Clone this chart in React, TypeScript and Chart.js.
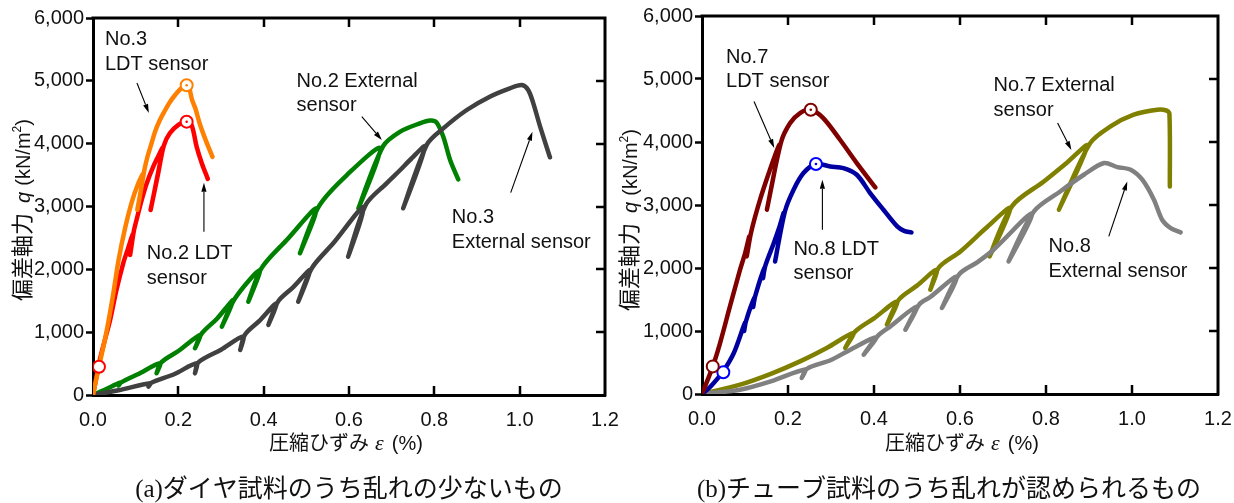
import React, { useEffect, useRef } from "react";
import { Chart, registerables } from "chart.js";

Chart.register(...registerables);

type Pt = [number, number];

// ---------- ticks ----------
const strainTicks = [0, 0.2, 0.4, 0.6, 0.8, 1.0, 1.2];
const stressTicks = [0, 1000, 2000, 3000, 4000, 5000, 6000];

// ---------- (a) left panel data: [strain %, q kN/m2] ----------
const no3Ldt: Pt[] = [
  [0, 0], [0.014, 450], [0.030, 950], [0.046, 1550], [0.060, 2150], [0.075, 2650],
  [0.090, 3050], [0.105, 3350], [0.118, 3520], [0.104, 2950], [0.112, 3250], [0.121, 3600],
  [0.128, 3800], [0.137, 4000], [0.146, 4200], [0.157, 4380], [0.168, 4520], [0.180, 4660],
  [0.192, 4770], [0.205, 4870], [0.2195, 4930], [0.226, 4870], [0.232, 4700], [0.240, 4560],
  [0.251, 4300], [0.265, 4040], [0.280, 3790],
];
const no2Ldt: Pt[] = [
  [0, 0], [0.016, 560], [0.028, 880], [0.040, 1190], [0.055, 1670], [0.071, 2100],
  [0.082, 2330], [0.093, 2550], [0.087, 2230], [0.096, 2620], [0.102, 2785], [0.114, 3100],
  [0.126, 3370], [0.141, 3630], [0.153, 3800], [0.163, 3930], [0.150, 3450], [0.135, 2944],
  [0.152, 3500], [0.166, 3970], [0.180, 4165], [0.200, 4300], [0.2195, 4350], [0.231, 4300],
  [0.243, 3950], [0.255, 3690], [0.269, 3440],
];
const no2External: Pt[] = [
  [0, 0], [0.030, 90], [0.063, 196], [0.060, 150], [0.066, 200], [0.105, 330],
  [0.157, 504], [0.149, 345], [0.160, 520], [0.200, 700], [0.251, 955], [0.239, 743],
  [0.255, 980], [0.290, 1210], [0.329, 1512], [0.302, 1087], [0.333, 1540], [0.391, 1989],
  [0.364, 1485], [0.395, 2020], [0.454, 2467], [0.524, 2971], [0.485, 2255], [0.530, 3010],
  [0.595, 3501], [0.673, 3926], [0.622, 2971], [0.680, 3960], [0.720, 4191], [0.766, 4324],
  [0.790, 4370], [0.805, 4340], [0.821, 4111], [0.837, 3740], [0.856, 3430],
];
const no3External: Pt[] = [
  [0, 0], [0.060, 75], [0.134, 186], [0.130, 132], [0.137, 195], [0.190, 330],
  [0.243, 504], [0.239, 345], [0.247, 520], [0.300, 720], [0.352, 930], [0.345, 716],
  [0.356, 960], [0.390, 1180], [0.430, 1460], [0.411, 1114], [0.434, 1490], [0.470, 1720],
  [0.509, 1990], [0.481, 1485], [0.513, 2020], [0.563, 2414], [0.634, 2990], [0.598, 2201],
  [0.640, 3035], [0.688, 3369], [0.720, 3581], [0.743, 3740], [0.778, 3952], [0.727, 2971],
  [0.783, 3990], [0.821, 4244], [0.876, 4536], [0.930, 4748], [0.977, 4881], [1.005, 4934],
  [1.020, 4854], [1.032, 4642], [1.048, 4270], [1.071, 3783],
];
const no3LdtPeak: Pt[] = [[0.2195, 4930]];
const no2LdtPeak: Pt[] = [[0.2195, 4350]];
const no2LdtStart: Pt[] = [[0.014, 450]];

// ---------- (b) right panel data ----------
const no7Ldt: Pt[] = [
  [0, 0], [0.025, 438], [0.042, 809], [0.065, 1390], [0.0885, 1973], [0.100, 2230],
  [0.110, 2500], [0.104, 2184], [0.114, 2560], [0.135, 3084], [0.158, 3560], [0.170, 3790],
  [0.180, 3950], [0.151, 2925], [0.184, 4000], [0.205, 4301], [0.228, 4460], [0.253, 4512],
  [0.282, 4380], [0.321, 4036], [0.360, 3666], [0.403, 3279],
];
const no8Ldt: Pt[] = [
  [0, 0], [0.020, 120], [0.048, 349], [0.074, 651], [0.100, 1130], [0.098, 1000],
  [0.102, 1150], [0.122, 1530], [0.119, 1380], [0.124, 1560], [0.145, 2000], [0.142, 1840],
  [0.147, 2030], [0.167, 2396], [0.180, 2650], [0.190, 2872], [0.170, 2104], [0.193, 2900],
  [0.213, 3242], [0.236, 3507], [0.265, 3650], [0.298, 3612], [0.329, 3586], [0.360, 3480],
  [0.391, 3190], [0.422, 2925], [0.454, 2660], [0.470, 2590], [0.487, 2565],
];
const no7External: Pt[] = [
  [0, 0], [0.0885, 148], [0.160, 320], [0.228, 518], [0.290, 730], [0.352, 968],
  [0.333, 730], [0.356, 990], [0.400, 1200], [0.454, 1470], [0.430, 1100], [0.458, 1500],
  [0.500, 1720], [0.546, 1973], [0.531, 1655], [0.551, 2010], [0.601, 2263], [0.660, 2630],
  [0.717, 2952], [0.669, 2184], [0.722, 2990], [0.795, 3374], [0.850, 3680], [0.896, 3941],
  [0.830, 2925], [0.902, 3975], [0.950, 4247], [1.004, 4433], [1.059, 4512], [1.080, 4500],
  [1.087, 4450], [1.088, 3295],
];
const no8External: Pt[] = [
  [0, 0], [0.0885, 68], [0.160, 200], [0.240, 390], [0.232, 254], [0.244, 400],
  [0.300, 540], [0.345, 703], [0.405, 900], [0.376, 624], [0.410, 930], [0.438, 1073],
  [0.500, 1390], [0.473, 1020], [0.505, 1420], [0.531, 1540], [0.593, 1866], [0.558, 1365],
  [0.598, 1900], [0.640, 2090], [0.678, 2290], [0.768, 2872], [0.713, 2104], [0.772, 2900],
  [0.833, 3215], [0.888, 3480], [0.935, 3666], [0.966, 3602], [0.997, 3560], [1.024, 3401],
  [1.051, 3084], [1.070, 2766], [1.090, 2634], [1.113, 2565],
];
const no7LdtPeak: Pt[] = [[0.253, 4512]];
const no8LdtPeak: Pt[] = [[0.265, 3650]];
const no7LdtStart: Pt[] = [[0.025, 438]];
const no8LdtStart: Pt[] = [[0.0496, 345]];

// ---------- annotations (text anchor = first baseline, arrow from -> to, data units) ----------
type Note = { lines: string[]; at: Pt; arrow: [Pt, Pt] };
const leftNotes: Note[] = [
  { lines: ["No.3", "LDT sensor"], at: [0.028, 5570], arrow: [[0.103, 4965], [0.131, 4488]] },
  { lines: ["No.2 LDT", "sensor"], at: [0.126, 2164], arrow: [[0.260, 2599], [0.260, 3379]] },
  { lines: ["No.2 External", "sensor"], at: [0.477, 4902], arrow: [[0.630, 4429], [0.677, 4058]] },
  { lines: ["No.3", "External sensor"], at: [0.841, 2737], arrow: [[0.979, 3220], [1.030, 4190]] },
];
const rightNotes: Note[] = [
  { lines: ["No.7", "LDT sensor"], at: [0.0559, 5258], arrow: [[0.121, 4644], [0.168, 3904]] },
  { lines: ["No.8 LDT", "sensor"], at: [0.2126, 2211], arrow: [[0.280, 2607], [0.280, 3401]] },
  { lines: ["No.7 External", "sensor"], at: [0.678, 4802], arrow: [[0.827, 4301], [0.859, 3872]] },
  { lines: ["No.8", "External sensor"], at: [0.806, 2247], arrow: [[0.946, 2501], [0.989, 3374]] },
];

const captionA = ["(a)", "ダイヤ試料のうち乱れの少ないもの"];
const captionB = ["(b)", "チューブ試料のうち乱れが認められるもの"];

const SANS = '"Liberation Sans", Arial, sans-serif';
const CJK = '"Noto Sans CJK JP", sans-serif';
const SERIF = '"Liberation Serif", "Times New Roman", serif';

type Series = { data: Pt[]; color: string };
type Marker = { data: Pt[]; color: string; dot: boolean };

type PanelSpec = {
  left: number;
  width: number;
  padRight: number;
  padTop: number;
  yAxisW: number;
  xAxisH: number;
  series: Series[]; // first drawn on top
  markers: Marker[];
  notes: Note[];
  yTitle: { bx: number; cy: number };
  xTitle: { cx: number; base: number };
  caption: { parts: string[]; cx: number; base: number };
};

type Seg = { t?: string; font?: string; gap?: number; dy?: number };

function drawSegs(ctx: CanvasRenderingContext2D, segs: Seg[], cx: number, base: number) {
  const widths = segs.map((s) => {
    if (s.gap !== undefined) return s.gap;
    ctx.font = s.font!;
    return ctx.measureText(s.t!).width;
  });
  const total = widths.reduce((a, b) => a + b, 0);
  let x = cx - total / 2;
  segs.forEach((s, i) => {
    if (s.t) {
      ctx.font = s.font!;
      ctx.fillText(s.t, x, base + (s.dy || 0));
    }
    x += widths[i];
  });
}

function makePlugin(spec: PanelSpec) {
  return {
    id: "panelDeco",
    afterDraw(chart: any) {
      const ctx: CanvasRenderingContext2D = chart.ctx;
      const a = chart.chartArea;
      const xs = chart.scales.x;
      const ys = chart.scales.y;
      ctx.save();
      // top and right frame
      ctx.strokeStyle = "#000";
      ctx.lineWidth = 3;
      ctx.lineCap = "square";
      ctx.beginPath();
      ctx.moveTo(a.left, a.top);
      ctx.lineTo(a.right, a.top);
      ctx.lineTo(a.right, a.bottom);
      ctx.stroke();
      // inward ticks
      ctx.lineWidth = 2.5;
      ctx.lineCap = "butt";
      ctx.beginPath();
      strainTicks.slice(1, -1).forEach((v) => {
        const px = Math.round(xs.getPixelForValue(v));
        ctx.moveTo(px, a.top);
        ctx.lineTo(px, a.top + 9);
        ctx.moveTo(px, a.bottom);
        ctx.lineTo(px, a.bottom - 9);
      });
      stressTicks.slice(1, -1).forEach((v) => {
        const py = Math.round(ys.getPixelForValue(v));
        ctx.moveTo(a.right, py);
        ctx.lineTo(a.right - 9, py);
      });
      ctx.stroke();

      // annotations
      ctx.fillStyle = "#111";
      ctx.strokeStyle = "#000";
      ctx.textAlign = "left";
      ctx.textBaseline = "alphabetic";
      ctx.font = `20px ${SANS}`;
      spec.notes.forEach((n) => {
        const tx = xs.getPixelForValue(n.at[0]);
        const ty = ys.getPixelForValue(n.at[1]);
        n.lines.forEach((l, i) => ctx.fillText(l, tx, ty + i * 24.5));
        const x1 = xs.getPixelForValue(n.arrow[0][0]);
        const y1 = ys.getPixelForValue(n.arrow[0][1]);
        const x2 = xs.getPixelForValue(n.arrow[1][0]);
        const y2 = ys.getPixelForValue(n.arrow[1][1]);
        const ang = Math.atan2(y2 - y1, x2 - x1);
        const L = 9;
        const W = 2.6;
        const bx = x2 - L * Math.cos(ang);
        const by = y2 - L * Math.sin(ang);
        ctx.lineWidth = 1.1;
        ctx.beginPath();
        ctx.moveTo(x1, y1);
        ctx.lineTo(bx, by);
        ctx.stroke();
        ctx.beginPath();
        ctx.moveTo(x2, y2);
        ctx.lineTo(bx + W * Math.sin(ang), by - W * Math.cos(ang));
        ctx.lineTo(bx - W * Math.sin(ang), by + W * Math.cos(ang));
        ctx.closePath();
        ctx.fillStyle = "#000";
        ctx.fill();
        ctx.fillStyle = "#111";
      });

      // x-axis title
      drawSegs(
        ctx,
        [
          { t: "圧縮ひずみ", font: `20px ${CJK}` },
          { gap: 6 },
          { t: "ε", font: `italic 22px ${SERIF}` },
          { gap: 8 },
          { t: "(%)", font: `20px ${SANS}` },
        ],
        spec.xTitle.cx,
        spec.xTitle.base
      );

      // y-axis title (rotated)
      ctx.save();
      ctx.translate(spec.yTitle.bx, spec.yTitle.cy);
      ctx.rotate(-Math.PI / 2);
      drawSegs(
        ctx,
        [
          { t: "偏差軸力", font: `22px ${CJK}` },
          { gap: 10 },
          { t: "q", font: `italic 20px ${SANS}` },
          { gap: 6 },
          { t: "(kN/m", font: `20px ${SANS}` },
          { t: "2", font: `12px ${SANS}`, dy: -9 },
          { t: ")", font: `20px ${SANS}` },
        ],
        0,
        0
      );
      ctx.restore();

      // caption
      ctx.fillStyle = "#111";
      drawSegs(
        ctx,
        [
          { t: spec.caption.parts[0], font: `25px ${SERIF}` },
          { t: spec.caption.parts[1], font: `25px ${CJK}` },
        ],
        spec.caption.cx,
        spec.caption.base
      );
      ctx.restore();
    },
  };
}

function buildConfig(spec: PanelSpec): any {
  const datasets: any[] = [];
  // dots on top, then circles, then lines
  spec.markers.forEach((m) => {
    if (m.dot)
      datasets.push({
        data: m.data.map(([x, y]) => ({ x, y })),
        showLine: false,
        pointRadius: 1.3,
        pointBorderWidth: 0,
        pointBackgroundColor: m.color,
      });
  });
  spec.markers.forEach((m) => {
    datasets.push({
      data: m.data.map(([x, y]) => ({ x, y })),
      showLine: false,
      pointRadius: 6,
      pointBorderWidth: 2,
      pointBorderColor: m.color,
      pointBackgroundColor: "#fff",
    });
  });
  spec.series.forEach((s) => {
    datasets.push({
      data: s.data.map(([x, y]) => ({ x, y })),
      showLine: true,
      pointRadius: 0,
      borderColor: s.color,
      borderWidth: 4.5,
      borderJoinStyle: "round",
      borderCapStyle: "round",
      tension: 0.3,
    });
  });

  const tickFont = { family: SANS, size: 20 };
  return {
    type: "scatter",
    data: { datasets },
    options: {
      animation: false,
      responsive: false,
      events: [],
      layout: { padding: { left: 0, right: spec.padRight, top: spec.padTop, bottom: 0 } },
      plugins: { legend: { display: false }, tooltip: { enabled: false } },
      scales: {
        x: {
          type: "linear",
          position: "bottom",
          min: 0,
          max: 1.2,
          afterBuildTicks: (s: any) => {
            s.ticks = strainTicks.map((v) => ({ value: v }));
          },
          afterFit: (s: any) => {
            s.height = spec.xAxisH;
            s.paddingLeft = 0;
            s.paddingRight = 0;
          },
          grid: { display: false },
          border: { display: true, color: "#000", width: 3 },
          ticks: {
            color: "#111",
            font: tickFont,
            padding: 5,
            maxRotation: 0,
            autoSkip: false,
            callback: (v: any) => Number(v).toFixed(1),
          },
        },
        y: {
          type: "linear",
          position: "left",
          min: 0,
          max: 6000,
          afterBuildTicks: (s: any) => {
            s.ticks = stressTicks.map((v) => ({ value: v }));
          },
          afterFit: (s: any) => {
            s.width = spec.yAxisW;
            s.paddingTop = 0;
            s.paddingBottom = 0;
          },
          grid: {
            display: true,
            drawOnChartArea: false,
            drawTicks: true,
            tickLength: 7,
            tickWidth: 2.5,
            tickColor: "#000",
          },
          border: { display: true, color: "#000", width: 3 },
          ticks: {
            color: "#111",
            font: tickFont,
            padding: 2,
            autoSkip: false,
            callback: (v: any) => Number(v).toLocaleString("en-US"),
          },
        },
      },
    },
    plugins: [makePlugin(spec)],
  };
}

const leftSpec: PanelSpec = {
  left: 0,
  width: 640,
  padRight: 35,
  padTop: 18,
  yAxisW: 93,
  xAxisH: 108,
  series: [
    { data: no3Ldt, color: "#ff8000" },
    { data: no2Ldt, color: "#ff0000" },
    { data: no3External, color: "#404040" },
    { data: no2External, color: "#008000" },
  ],
  markers: [
    { data: no3LdtPeak, color: "#ff8000", dot: true },
    { data: no2LdtPeak, color: "#ff0000", dot: true },
    { data: no2LdtStart, color: "#ff0000", dot: false },
  ],
  notes: leftNotes,
  yTitle: { bx: 30, cy: 210 },
  xTitle: { cx: 346, base: 450 },
  caption: { parts: captionA, cx: 349, base: 497 },
};

const rightSpec: PanelSpec = {
  left: 617,
  width: 617,
  padRight: 16,
  padTop: 16,
  yAxisW: 85,
  xAxisH: 109,
  series: [
    { data: no7Ldt, color: "#800000" },
    { data: no8Ldt, color: "#0000a0" },
    { data: no8External, color: "#808080" },
    { data: no7External, color: "#808000" },
  ],
  markers: [
    { data: no7LdtPeak, color: "#800000", dot: true },
    { data: no8LdtPeak, color: "#0000ff", dot: true },
    { data: no7LdtStart, color: "#800000", dot: false },
    { data: no8LdtStart, color: "#0000ff", dot: false },
  ],
  notes: rightNotes,
  yTitle: { bx: 20, cy: 220 },
  xTitle: { cx: 345, base: 450 },
  caption: { parts: captionB, cx: 332, base: 497 },
};

function Panel({ spec }: { spec: PanelSpec }) {
  const ref = useRef<HTMLCanvasElement>(null);
  useEffect(() => {
    if (!ref.current) return;
    const chart = new Chart(ref.current, buildConfig(spec));
    return () => chart.destroy();
  }, [spec]);
  return (
    <canvas
      ref={ref}
      width={spec.width}
      height={503}
      style={{ position: "absolute", left: spec.left, top: 0, width: spec.width, height: 503 }}
    />
  );
}

export default function App() {
  return (
    <div style={{ position: "absolute", left: 0, top: 0, width: 1234, height: 503, background: "#fff" }}>
      <Panel spec={leftSpec} />
      <Panel spec={rightSpec} />
    </div>
  );
}
